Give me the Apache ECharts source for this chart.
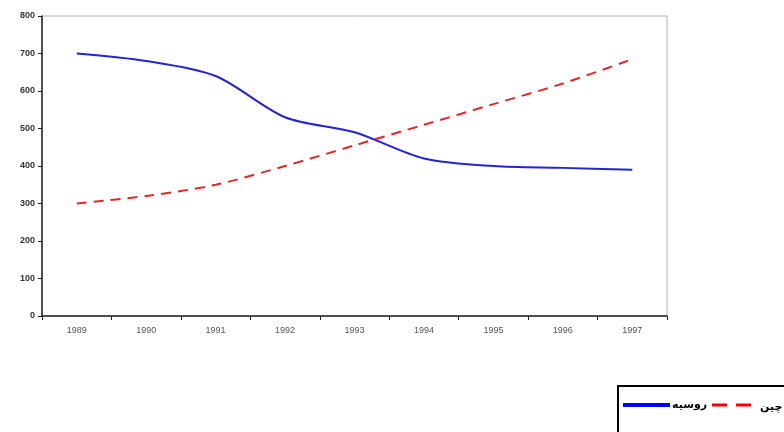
<!DOCTYPE html>
<html>
<head>
<meta charset="utf-8">
<script src="https://cdn.jsdelivr.net/npm/echarts@6/dist/echarts.min.js"></script>
<style>html,body{margin:0;padding:0;background:#fff;}#c{width:784px;height:432px;}</style>
</head>
<body>
<div id="c"></div>
<script>
var years = ['1989','1990','1991','1992','1993','1994','1995','1996','1997'];
var russia = [700, 680, 640, 530, 490, 420, 400, 395, 390];
var china = [300, 320, 350, 400, 455, 510, 565, 620, 685];
var seriesNames = ['روسیه', 'چین'];
var seriesColors = ['#0000ff', '#ff0000'];

var chart = echarts.init(document.getElementById('c'));
chart.setOption({
  animation: false,
  backgroundColor: '#fff',
  textStyle: {fontFamily: 'Liberation Sans, Arial, sans-serif'},
  grid: {left: 42, top: 16, right: 117, bottom: 116, show: true, borderColor: '#b0b0b0', borderWidth: 1},
  graphic: [
    {type: 'rect', left: 617, top: 385, shape: {width: 220, height: 80},
     style: {fill: '#fff', stroke: '#000', lineWidth: 2}},
    {type: 'line', shape: {x1: 623, y1: 405, x2: 670, y2: 405},
     style: {stroke: seriesColors[0], lineWidth: 4}},
    {type: 'text', x: 672, y: 405,
     style: {text: seriesNames[0], fill: '#000', font: 'bold 11px "Noto Sans", "DejaVu Sans", sans-serif', textVerticalAlign: 'middle', verticalAlign: 'middle'}},
    {type: 'line', shape: {x1: 712, y1: 405, x2: 755, y2: 405},
     style: {stroke: seriesColors[1], lineWidth: 3, lineDash: [15, 9]}},
    {type: 'text', x: 760, y: 407,
     style: {text: seriesNames[1], fill: '#000', font: 'bold 11px "Noto Sans", "DejaVu Sans", sans-serif', textVerticalAlign: 'middle', verticalAlign: 'middle'}}
  ],
  xAxis: {
    type: 'category',
    data: years,
    boundaryGap: true,
    axisLine: {lineStyle: {color: '#222', width: 1.5}},
    axisTick: {show: true, length: 4, lineStyle: {color: '#222'}},
    axisLabel: {fontSize: 9, color: '#555', margin: 10}
  },
  yAxis: {
    type: 'value',
    min: 0, max: 800, interval: 100,
    splitLine: {show: false},
    axisLine: {show: true, lineStyle: {color: '#222', width: 1.5}},
    axisTick: {show: true, length: 4, lineStyle: {color: '#222'}},
    axisLabel: {fontSize: 9, color: '#333', fontWeight: 'bold', margin: 7}
  },
  series: [
    {
      name: seriesNames[0], type: 'line', data: russia,
      smooth: 0.3, symbol: 'none',
      lineStyle: {color: '#2424d0', width: 2},
      itemStyle: {color: seriesColors[0]}
    },
    {
      name: seriesNames[1], type: 'line', data: china,
      smooth: 0.3, symbol: 'none',
      lineStyle: {color: '#e02828', width: 2, type: [10, 7]},
      itemStyle: {color: seriesColors[1]}
    }
  ]
});
</script>
</body>
</html>
